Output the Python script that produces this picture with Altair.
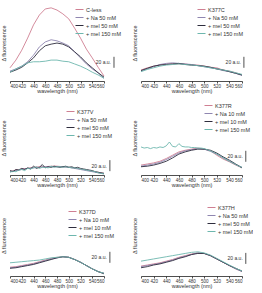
import altair as alt
import pandas as pd

# ---------------- data ----------------
W = list(range(400, 561, 10))
W5 = list(range(400, 561, 5))
TICKS = [400, 420, 440, 460, 480, 500, 520, 540, 560]

# panel 1 : C-less
p1_ctrl = [24, 38, 56, 78, 102, 120, 131, 133, 129, 122, 113, 96, 78, 58, 42, 25, 9]
p1_na = [18, 22, 27, 35, 47, 62, 71, 75, 73, 69, 64, 53, 42, 31, 22, 15, 5]
p1_mel = [16, 20, 25, 33, 42, 55, 64, 67, 69, 67, 62, 53, 44, 33, 24, 15, 7]
p1_mel150 = [16, 22, 27, 33, 35, 35, 36, 38, 38, 36, 35, 31, 27, 22, 16, 11, 5]
p1_labels = ["C-less", "+ Na 50 mM", "+ mel 50 mM", "+ mel 150 mM"]

# panel 2 : K377C
p2_ctrl = [20, 24, 27, 29, 31, 31, 31, 31, 29, 29, 27, 25, 24, 20, 18, 15, 11]
p2_na = [18, 22, 26, 30, 32, 33, 32, 31, 30, 28, 26, 24, 22, 19, 17, 14, 10]
p2_mel = [19, 23, 27, 29, 30, 31, 32, 30, 29, 28, 27, 25, 22, 20, 17, 14, 11]
p2_mel150 = [17, 21, 24, 27, 29, 30, 31, 30, 29, 28, 26, 24, 22, 20, 18, 15, 12]
p2_labels = ["K377C", "+ Na 50 mM", "+ mel 50 mM", "+ mel 150 mM"]

# panel 3 : K377V
p3_ctrl = [7, 9, 11, 12, 14, 15, 15, 16, 16, 15, 14, 13, 11, 9, 7, 5, 3]
p3_na = [6, 8, 10, 12, 13, 14, 15, 15, 15, 15, 14, 12, 10, 8, 6, 4, 2]
p3_mel = [8, 6, 10, 9, 12, 10, 13, 11, 16, 12, 14, 19, 13, 15, 14, 16, 15, 14, 15, 16,
          14, 15, 13, 14, 12, 11, 10, 9, 8, 6, 5, 4, 3]
p3_mel150 = [5, 7, 6, 9, 10, 8, 12, 11, 13, 15, 12, 14, 14, 13, 16, 14, 15, 15, 14, 15,
             14, 13, 13, 12, 11, 10, 9, 8, 7, 6, 4, 3, 2]
p3_labels = ["K377V", "+ Na 50 mM", "+ mel 50 mM", "+ mel 150 mM"]

# panel 4 : K377R
p4_ctrl = [18, 20, 22, 25, 30, 36, 42, 45, 47, 49, 47, 44, 36, 29, 24, 18, 13]
p4_na = [16, 18, 20, 23, 28, 34, 40, 44, 46, 48, 47, 43, 38, 31, 25, 19, 14]
p4_mel = [15, 16, 18, 21, 25, 31, 38, 42, 45, 47, 47, 45, 40, 33, 27, 20, 13]
p4_mel150 = [51, 49, 50, 48, 50, 49, 51, 50, 53, 60, 52, 51, 57, 52, 51, 51, 50, 50, 49,
             49, 48, 46, 44, 41, 38, 35, 31, 28, 25, 22, 19, 16, 14]
p4_labels = ["K377R", "+ Na 10 mM", "+ mel 10 mM", "+ mel 150 mM"]

# panel 5 : K377D
p5_ctrl = [16, 17, 19, 21, 23, 26, 29, 32, 34, 35, 34, 30, 25, 19, 13, 8, 5]
p5_na = [15, 16, 18, 20, 22, 25, 28, 31, 33, 35, 34, 30, 25, 19, 13, 8, 5]
p5_mel = [14, 15, 17, 19, 21, 24, 27, 30, 33, 35, 34, 30, 25, 19, 13, 8, 4]
p5_mel150 = [24, 25, 26, 27, 28, 29, 31, 33, 34, 35, 34, 30, 25, 19, 13, 8, 5]
p5_labels = ["K377D", "+ Na 10 mM", "+ mel 10 mM", "+ mel 150 mM"]

# panel 6 : K377H
p6_ctrl = [18, 20, 22, 24, 27, 30, 34, 37, 40, 42, 41, 37, 31, 25, 19, 13, 8]
p6_na = [17, 19, 21, 23, 26, 29, 33, 36, 39, 42, 41, 37, 31, 25, 19, 13, 8]
p6_mel = [15, 17, 20, 22, 25, 28, 32, 35, 39, 41, 41, 37, 31, 25, 19, 14, 9]
p6_mel150 = [27, 29, 31, 33, 35, 37, 39, 41, 43, 44, 42, 38, 32, 26, 20, 14, 9]
p6_labels = ["K377H", "+ Na 50 mM", "+ mel 50 mM", "+ mel 150 mM"]

# scale bars (x position in nm, bottom in a.u.), 20 a.u. tall
SCALE_LEN = 20
bars = [(577, 24), (563, 24), (570, 7), (566, 24), (570, 24), (566, 22)]

COLORS = ["#cf7f92", "#8f86b0", "#2e2d3d", "#6db7ae"]
FONT = "Liberation Sans"
K = 0.55  # px per a.u.


def make_df(series, labels):
    rows = []
    for (xs, ys), lab in zip(series, labels):
        for x, y in zip(xs, ys):
            rows.append({"wl": x, "v": y, "s": lab})
    return pd.DataFrame(rows)


XAXIS = alt.Axis(values=TICKS, title="wavelength (nm)", grid=False,
                 labelFontSize=4.5, titleFontSize=5.5, titleFontWeight="normal",
                 tickSize=2, labelPadding=0, titlePadding=1,
                 domainColor="#222", tickColor="#222", labelColor="#333",
                 titleColor="#333", labelFont=FONT, titleFont=FONT,
                 domainWidth=0.8, tickWidth=0.8)
YAXIS = alt.Axis(title="Δ fluorescence", labels=False, ticks=False, domain=False,
                 grid=False, titleFontSize=5.5, titleFontWeight="normal",
                 titleColor="#333", titleFont=FONT, titlePadding=4)


def panel(series, labels, w, h, lx, ly, bar):
    xs = alt.Scale(domain=[400, 560], nice=False, zero=False)
    ys = alt.Scale(domain=[0, h / K], nice=False, zero=False)
    df = make_df(series, labels)
    leg = alt.Legend(orient="none", legendX=lx, legendY=ly, title=None,
                     symbolType="stroke", symbolSize=64, symbolStrokeWidth=1,
                     labelFontSize=5.5, labelFont=FONT, labelColor="#333",
                     rowPadding=-1.5, labelOffset=2, padding=0, labelLimit=60)
    lines = alt.Chart(df).mark_line(strokeWidth=0.9).encode(
        x=alt.X("wl:Q", scale=xs, axis=XAXIS),
        y=alt.Y("v:Q", scale=ys, axis=YAXIS),
        color=alt.Color("s:N", scale=alt.Scale(domain=labels, range=COLORS), legend=leg),
        detail="s:N",
    )
    bx, by = bar
    bdf = pd.DataFrame({"wl": [bx], "v": [by], "v2": [by + SCALE_LEN],
                        "vm": [by + SCALE_LEN / 2], "t": ["20 a.u."]})
    rule = alt.Chart(bdf).mark_rule(color="#222", strokeWidth=0.8).encode(
        x=alt.X("wl:Q", scale=xs, axis=XAXIS),
        y=alt.Y("v:Q", scale=ys, axis=YAXIS), y2="v2:Q")
    txt = alt.Chart(bdf).mark_text(align="right", baseline="middle", fontSize=5,
                                   dx=-3, font=FONT, color="#333").encode(
        x=alt.X("wl:Q", scale=xs, axis=XAXIS),
        y=alt.Y("vm:Q", scale=ys, axis=YAXIS), text="t:N")
    return alt.layer(lines, rule, txt).properties(width=w, height=h)


WL, WR = 94, 101
H1, H2, H3 = 76, 74, 81

c1 = panel([(W, p1_ctrl), (W, p1_na), (W, p1_mel), (W, p1_mel150)], p1_labels,
           WL, H1, 65, 0, bars[0])
c2 = panel([(W, p2_ctrl), (W, p2_na), (W, p2_mel), (W, p2_mel150)], p2_labels,
           WR, H1, 56, 0, bars[1])
c3 = panel([(W, p3_ctrl), (W, p3_na), (W5, p3_mel), (W5, p3_mel150)], p3_labels,
           WL, H2, 56, 6, bars[2])
c4 = panel([(W, p4_ctrl), (W, p4_na), (W, p4_mel), (W5, p4_mel150)], p4_labels,
           WR, H2, 63, 0, bars[3])
c5 = panel([(W, p5_ctrl), (W, p5_na), (W, p5_mel), (W, p5_mel150)], p5_labels,
           WL, H3, 58, 12, bars[4])
c6 = panel([(W, p6_ctrl), (W, p6_na), (W, p6_mel), (W, p6_mel150)], p6_labels,
           WR, H3, 66, 8, bars[5])

chart = alt.concat(c1, c2, c3, c4, c5, c6, columns=2,
                   spacing=alt.RowColnumber(row=20, column=37),
                   bounds="flush",
                   align=alt.RowColLayoutAlign(row="each", column="each")) \
    .resolve_scale(color="independent", x="independent", y="independent") \
    .properties(padding={"left": 1, "top": 5, "right": 0, "bottom": 0}, background="white") \
    .configure_view(stroke="white", strokeWidth=0)

chart.save("out.html", embed_options={"renderer": "svg", "actions": False})
